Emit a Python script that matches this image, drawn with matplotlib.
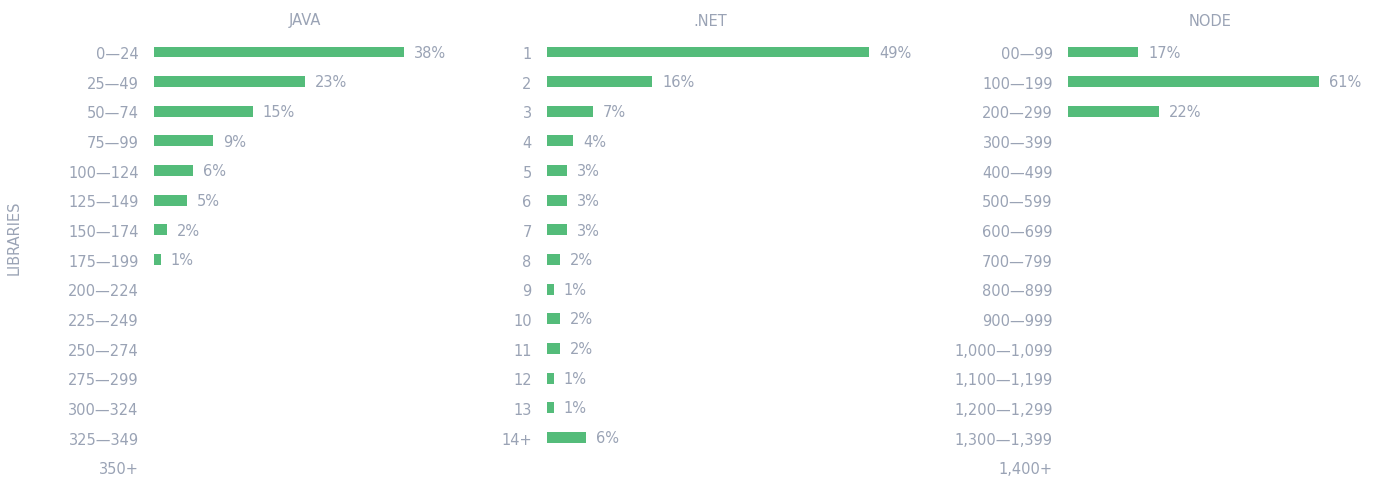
import matplotlib.pyplot as plt

plt.rcParams['font.family'] = ['DejaVu Sans']

green = '#54bc7a'
grey = '#9aa3b5'

java_labels = ['0—24', '25—49', '50—74', '75—99', '100—124', '125—149', '150—174',
               '175—199', '200—224', '225—249', '250—274', '275—299', '300—324',
               '325—349', '350+']
java_values = [38, 23, 15, 9, 6, 5, 2, 1]

net_labels = ['1', '2', '3', '4', '5', '6', '7', '8', '9', '10', '11', '12', '13', '14+']
net_values = [49, 16, 7, 4, 3, 3, 3, 2, 1, 2, 2, 1, 1, 6]

node_labels = ['00—99', '100—199', '200—299', '300—399', '400—499', '500—599',
               '600—699', '700—799', '800—899', '900—999', '1,000—1,099',
               '1,100—1,199', '1,200—1,299', '1,300—1,399', '1,400+']
node_values = [17, 61, 22]

panels = [
    ('JAVA', java_labels, java_values, 154, 302, 45.9),
    ('.NET', net_labels, net_values, 547, 326, 49.6),
    ('NODE', node_labels, node_values, 1068, 284, 69.0),
]

W, H = 1379, 478
fig = plt.figure(figsize=(W / 100, H / 100), dpi=100)

row = 29.64
top = 52 - row / 2
height = 15 * row

for title, labels, values, x0, w, xmax in panels:
    ax = fig.add_axes([x0 / W, 1 - (top + height) / H, w / W, height / H])
    ax.barh(range(len(values)), values, height=0.37, color=green)
    for i, v in enumerate(values):
        ax.text(v + 10 * xmax / w, i + 0.04, f'{v}%', va='center', ha='left',
                fontsize=10.5, color=grey)
    ax.set_xlim(0, xmax)
    ax.set_ylim(14.5, -0.5)
    ax.set_yticks([i + 0.04 for i in range(len(labels))])
    ax.set_yticklabels(labels, fontsize=10.5, color=grey)
    ax.tick_params(axis='y', length=0, pad=11)
    ax.set_xticks([])
    for s in ax.spines.values():
        s.set_visible(False)
    fig.text((x0 + w / 2) / W, 1 - 21 / H, title, ha='center', va='center',
             fontsize=10.5, color=grey)

fig.text(14 / W, 1 - 238 / H, 'LIBRARIES', rotation=90, ha='center', va='center',
         fontsize=10.5, color=grey)

fig.savefig('out.png', dpi=100)
